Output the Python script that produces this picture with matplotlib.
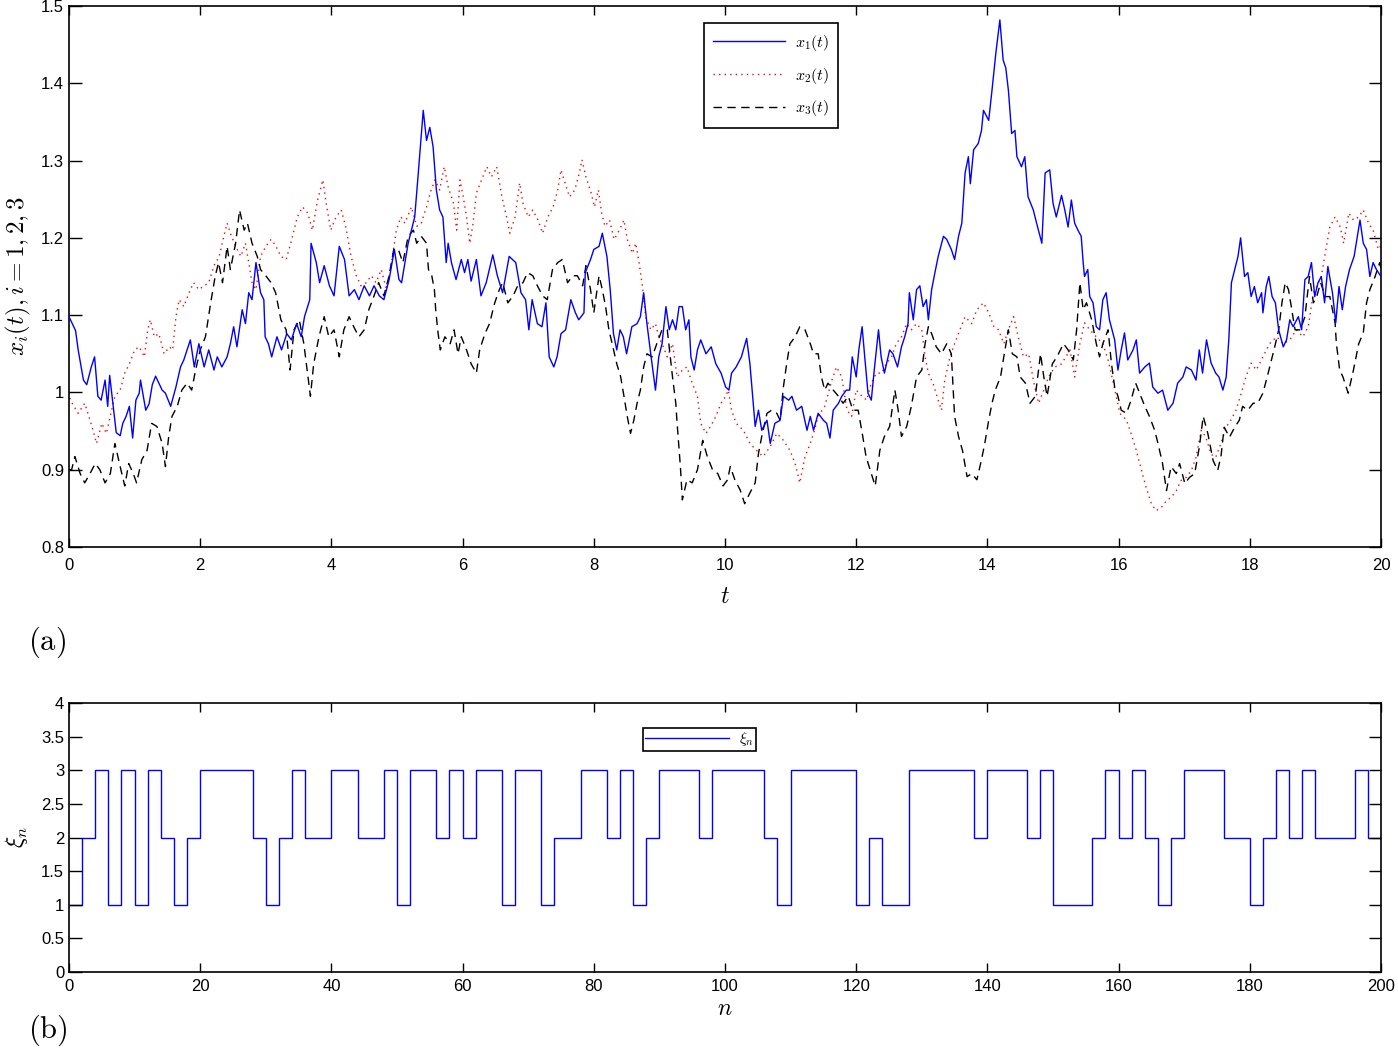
import numpy as np
import matplotlib
matplotlib.use("Agg")
import matplotlib.pyplot as plt
from matplotlib.ticker import FuncFormatter

plt.rcParams['mathtext.fontset'] = 'cm'
plt.rcParams['font.family'] = ['Liberation Sans', 'DejaVu Sans']

# ---------------- data: panel (a) ----------------
x1_data = [(0.00,1.098),(0.10,1.08),(0.14,1.055),(0.22,1.016),(0.27,1.01),(0.34,1.033),(0.39,1.046),
(0.44,0.995),(0.49,0.99),(0.55,1.016),(0.59,0.982),(0.62,1.022),(0.67,0.985),(0.72,0.948),(0.78,0.944),
(0.82,0.96),(0.87,0.969),(0.92,0.982),(0.97,0.941),(1.02,0.99),(1.07,0.999),(1.09,1.016),(1.17,0.977),
(1.22,0.985),(1.27,1.01),(1.32,1.021),(1.42,1.003),(1.47,0.999),(1.55,0.982),(1.63,1.007),(1.70,1.033),
(1.75,1.042),(1.85,1.068),(1.91,1.033),(1.98,1.063),(2.06,1.033),(2.13,1.055),(2.21,1.029),(2.26,1.046),
(2.33,1.033),(2.41,1.046),(2.46,1.063),(2.51,1.085),(2.56,1.059),(2.64,1.107),(2.69,1.089),(2.74,1.129),
(2.79,1.12),(2.85,1.168),(2.92,1.129),(2.97,1.12),(2.99,1.072),(3.04,1.063),(3.09,1.046),(3.17,1.072),
(3.24,1.055),(3.32,1.076),(3.39,1.068),(3.47,1.089),(3.54,1.072),(3.59,1.098),(3.67,1.12),(3.69,1.193),
(3.77,1.168),(3.82,1.142),(3.89,1.164),(3.97,1.138),(4.04,1.125),(4.12,1.189),(4.20,1.172),(4.27,1.125),
(4.35,1.133),(4.42,1.12),(4.50,1.138),(4.58,1.125),(4.65,1.138),(4.73,1.125),(4.80,1.12),(4.88,1.146),
(4.96,1.185),(5.03,1.146),(5.07,1.142),(5.17,1.193),(5.27,1.227),(5.32,1.279),(5.40,1.365),(5.45,1.326),
(5.50,1.343),(5.55,1.318),(5.60,1.262),(5.65,1.236),(5.70,1.227),(5.75,1.168),(5.78,1.193),(5.83,1.168),
(5.90,1.146),(5.98,1.172),(6.03,1.155),(6.08,1.172),(6.13,1.144),(6.21,1.172),(6.28,1.125),(6.36,1.142),
(6.46,1.178),(6.53,1.151),(6.61,1.129),(6.71,1.176),(6.81,1.168),(6.89,1.129),(6.96,1.12),(7.01,1.081),
(7.06,1.12),(7.14,1.089),(7.21,1.085),(7.27,1.116),(7.32,1.046),(7.39,1.033),(7.44,1.046),(7.50,1.076),
(7.57,1.081),(7.65,1.12),(7.72,1.103),(7.77,1.094),(7.85,1.103),(7.87,1.155),(7.95,1.172),(8.00,1.185),
(8.08,1.189),(8.13,1.206),(8.20,1.176),(8.25,1.133),(8.30,1.076),(8.35,1.055),(8.40,1.081),(8.45,1.072),
(8.50,1.05),(8.58,1.085),(8.66,1.089),(8.71,1.098),(8.76,1.129),(8.81,1.089),(8.86,1.055),(8.94,1.003),
(8.99,1.046),(9.04,1.063),(9.10,1.111),(9.15,1.081),(9.20,1.094),(9.25,1.081),(9.30,1.111),(9.35,1.111),
(9.40,1.081),(9.45,1.094),(9.48,1.046),(9.53,1.029),(9.58,1.055),(9.63,1.068),(9.71,1.05),(9.79,1.059),
(9.86,1.037),(9.94,1.025),(10.01,1.007),(10.06,1.003),(10.10,1.025),(10.17,1.033),(10.25,1.046),
(10.33,1.07),(10.38,1.037),(10.46,0.956),(10.51,0.977),(10.56,0.951),(10.64,0.964),(10.69,0.934),
(10.76,0.96),(10.84,0.964),(10.89,0.995),(10.97,0.99),(11.02,0.995),(11.09,0.977),(11.17,0.982),
(11.25,0.951),(11.30,0.969),(11.35,0.951),(11.42,0.973),(11.50,0.964),(11.55,0.96),(11.60,0.941),
(11.65,0.977),(11.73,0.986),(11.78,0.995),(11.85,1.003),(11.90,1.003),(11.94,1.046),(12.00,1.02),
(12.04,1.055),(12.09,1.085),(12.13,1.046),(12.18,0.999),(12.23,0.99),(12.28,1.033),(12.34,1.081),
(12.38,1.046),(12.43,1.025),(12.51,1.055),(12.56,1.05),(12.63,1.033),(12.69,1.059),(12.74,1.072),
(12.79,1.089),(12.81,1.129),(12.87,1.094),(12.92,1.133),(12.97,1.138),(13.02,1.111),(13.07,1.12),
(13.10,1.094),(13.15,1.133),(13.20,1.155),(13.25,1.176),(13.33,1.202),(13.38,1.198),(13.45,1.185),
(13.50,1.172),(13.56,1.202),(13.61,1.219),(13.66,1.284),(13.71,1.305),(13.74,1.27),(13.79,1.314),
(13.86,1.322),(13.91,1.339),(13.94,1.365),(14.02,1.352),(14.07,1.391),(14.13,1.44),(14.19,1.482),
(14.24,1.43),(14.28,1.42),(14.32,1.391),(14.37,1.335),(14.42,1.339),(14.45,1.305),(14.52,1.292),
(14.57,1.305),(14.62,1.253),(14.70,1.236),(14.75,1.219),(14.83,1.193),(14.88,1.284),(14.95,1.288),
(15.00,1.245),(15.05,1.227),(15.13,1.255),(15.18,1.236),(15.23,1.214),(15.28,1.249),(15.33,1.219),
(15.38,1.21),(15.43,1.202),(15.46,1.168),(15.48,1.15),(15.53,1.159),(15.56,1.124),(15.61,1.116),
(15.66,1.085),(15.71,1.081),(15.76,1.12),(15.81,1.129),(15.86,1.094),(15.94,1.068),(15.99,1.029),
(16.04,1.055),(16.09,1.077),(16.14,1.042),(16.22,1.055),(16.27,1.068),(16.32,1.025),(16.40,1.033),
(16.47,1.038),(16.52,1.007),(16.60,0.999),(16.67,1.003),(16.75,0.977),(16.83,0.986),(16.90,1.012),
(16.98,1.02),(17.03,1.033),(17.11,1.029),(17.18,1.016),(17.23,1.055),(17.28,1.025),(17.34,1.068),
(17.41,1.038),(17.48,1.025),(17.53,1.02),(17.59,1.003),(17.64,1.02),(17.68,1.068),(17.72,1.142),
(17.77,1.159),(17.82,1.176),(17.86,1.2),(17.92,1.15),(17.97,1.155),(18.02,1.124),(18.07,1.137),
(18.12,1.116),(18.18,1.129),(18.20,1.103),(18.25,1.137),(18.29,1.15),(18.34,1.124),(18.39,1.116),
(18.44,1.081),(18.51,1.059),(18.56,1.068),(18.61,1.094),(18.66,1.085),(18.74,1.098),(18.79,1.081),
(18.84,1.146),(18.89,1.15),(18.94,1.168),(18.99,1.124),(19.04,1.142),(19.09,1.15),(19.14,1.116),
(19.19,1.163),(19.26,1.129),(19.31,1.09),(19.36,1.137),(19.41,1.107),(19.46,1.137),(19.52,1.159),
(19.59,1.176),(19.63,1.197),(19.68,1.223),(19.73,1.193),(19.78,1.185),(19.83,1.15),(19.88,1.168),
(19.93,1.159),(20.00,1.15)]

x2_data = [(0.00,1.0),(0.02,0.99),(0.14,0.973),(0.24,0.986),(0.35,0.956),(0.42,0.934),(0.50,0.96),
(0.57,0.947),(0.65,0.977),(0.70,0.995),(0.78,1.003),(0.85,1.025),(0.92,1.037),(1.00,1.055),(1.07,1.059),
(1.15,1.046),(1.20,1.081),(1.24,1.094),(1.30,1.072),(1.37,1.076),(1.45,1.05),(1.53,1.059),(1.58,1.055),
(1.63,1.098),(1.68,1.12),(1.75,1.111),(1.83,1.129),(1.90,1.142),(1.98,1.133),(2.06,1.138),(2.13,1.142),
(2.21,1.164),(2.29,1.176),(2.36,1.202),(2.41,1.219),(2.46,1.206),(2.54,1.189),(2.62,1.176),(2.69,1.193),
(2.74,1.168),(2.79,1.142),(2.85,1.133),(2.92,1.176),(3.00,1.189),(3.08,1.198),(3.15,1.19),(3.23,1.176),
(3.31,1.172),(3.38,1.193),(3.43,1.21),(3.48,1.227),(3.56,1.24),(3.64,1.232),(3.71,1.21),(3.79,1.249),
(3.87,1.275),(3.92,1.245),(3.99,1.21),(4.07,1.227),(4.15,1.236),(4.22,1.214),(4.30,1.176),(4.38,1.151),
(4.45,1.138),(4.53,1.142),(4.61,1.151),(4.68,1.142),(4.76,1.159),(4.84,1.133),(4.91,1.164),(4.99,1.21),
(5.06,1.227),(5.12,1.219),(5.22,1.24),(5.30,1.215),(5.37,1.219),(5.45,1.24),(5.52,1.262),(5.58,1.275),
(5.65,1.262),(5.72,1.292),(5.78,1.266),(5.86,1.245),(5.91,1.21),(5.96,1.275),(6.01,1.253),(6.06,1.227),
(6.11,1.193),(6.16,1.219),(6.21,1.258),(6.29,1.275),(6.37,1.292),(6.44,1.279),(6.52,1.292),(6.60,1.253),
(6.67,1.227),(6.72,1.206),(6.80,1.227),(6.87,1.271),(6.92,1.245),(7.00,1.227),(7.07,1.236),(7.15,1.223),
(7.22,1.206),(7.30,1.227),(7.38,1.24),(7.45,1.262),(7.50,1.288),(7.58,1.266),(7.63,1.253),(7.71,1.262),
(7.78,1.284),(7.82,1.301),(7.88,1.279),(7.96,1.258),(8.01,1.24),(8.07,1.262),(8.12,1.232),(8.17,1.215),
(8.24,1.223),(8.31,1.198),(8.39,1.21),(8.46,1.223),(8.51,1.198),(8.59,1.18),(8.64,1.193),(8.69,1.168),
(8.74,1.138),(8.79,1.098),(8.87,1.081),(8.94,1.089),(8.99,1.072),(9.04,1.063),(9.12,1.046),(9.20,1.063),
(9.27,1.02),(9.35,1.029),(9.42,1.033),(9.50,1.012),(9.58,0.995),(9.63,0.96),(9.71,0.947),(9.78,0.956),
(9.86,0.969),(9.94,0.986),(10.01,0.995),(10.05,1.003),(10.10,0.977),(10.17,0.96),(10.28,0.951),
(10.38,0.934),(10.48,0.925),(10.58,0.917),(10.69,0.93),(10.79,0.947),(10.89,0.938),(10.99,0.925),
(11.07,0.908),(11.14,0.883),(11.22,0.917),(11.30,0.934),(11.35,0.947),(11.42,0.969),(11.52,0.982),
(11.63,1.016),(11.70,1.033),(11.78,1.02),(11.86,0.977),(11.93,0.969),(12.00,1.003),(12.09,0.995),
(12.16,0.99),(12.23,1.012),(12.31,1.025),(12.39,1.025),(12.46,1.037),(12.54,1.046),(12.61,1.063),
(12.69,1.072),(12.77,1.089),(12.84,1.081),(12.92,1.089),(13.00,1.081),(13.05,1.046),(13.10,1.025),
(13.17,1.012),(13.25,0.99),(13.30,0.977),(13.35,1.016),(13.43,1.046),(13.50,1.063),(13.58,1.081),
(13.66,1.098),(13.76,1.089),(13.84,1.107),(13.94,1.116),(14.02,1.103),(14.10,1.085),(14.17,1.081),
(14.25,1.063),(14.32,1.081),(14.40,1.098),(14.47,1.072),(14.55,1.046),(14.63,1.05),(14.70,1.016),
(14.78,0.986),(14.86,1.003),(14.93,1.02),(15.03,1.033),(15.13,1.037),(15.26,1.055),(15.33,1.02),
(15.41,1.063),(15.48,1.09),(15.56,1.081),(15.66,1.072),(15.76,1.063),(15.84,1.042),(15.91,1.016),
(16.02,0.973),(16.12,0.964),(16.19,0.947),(16.27,0.925),(16.35,0.899),(16.42,0.877),(16.50,0.856),
(16.57,0.847),(16.65,0.851),(16.73,0.86),(16.80,0.864),(16.88,0.873),(16.95,0.886),(17.03,0.89),
(17.11,0.899),(17.18,0.916),(17.26,0.951),(17.33,0.942),(17.41,0.92),(17.48,0.916),(17.56,0.934),
(17.64,0.955),(17.71,0.964),(17.79,0.977),(17.87,0.999),(17.94,1.02),(18.02,1.038),(18.10,1.029),
(18.20,1.046),(18.30,1.063),(18.41,1.072),(18.51,1.063),(18.61,1.068),(18.71,1.081),(18.81,1.072),
(18.89,1.085),(18.97,1.129),(19.02,1.137),(19.09,1.15),(19.15,1.18),(19.22,1.214),(19.30,1.227),
(19.38,1.214),(19.43,1.193),(19.51,1.232),(19.58,1.223),(19.66,1.227),(19.73,1.236),(19.81,1.219),
(19.88,1.21),(19.96,1.185),(20.00,1.19)]

x3_data = [(0.00,0.9),(0.04,0.9),(0.09,0.917),(0.17,0.895),(0.24,0.883),(0.32,0.895),(0.40,0.908),
(0.47,0.9),(0.55,0.883),(0.63,0.895),(0.70,0.934),(0.78,0.904),(0.85,0.879),(0.91,0.908),(0.98,0.895),
(1.03,0.883),(1.11,0.913),(1.19,0.925),(1.26,0.96),(1.34,0.956),(1.42,0.934),(1.47,0.904),(1.52,0.943),
(1.57,0.969),(1.65,0.982),(1.72,1.003),(1.80,1.012),(1.87,1.003),(1.93,1.029),(2.00,1.055),(2.08,1.072),
(2.16,1.116),(2.23,1.151),(2.28,1.168),(2.34,1.142),(2.41,1.189),(2.46,1.159),(2.54,1.193),(2.60,1.236),
(2.67,1.21),(2.72,1.219),(2.79,1.193),(2.87,1.176),(2.92,1.159),(3.00,1.151),(3.08,1.142),(3.15,1.129),
(3.23,1.094),(3.31,1.081),(3.37,1.029),(3.43,1.081),(3.51,1.094),(3.58,1.063),(3.63,1.029),(3.68,0.995),
(3.73,1.037),(3.81,1.072),(3.89,1.098),(3.96,1.072),(4.04,1.081),(4.12,1.046),(4.19,1.081),(4.27,1.098),
(4.34,1.085),(4.42,1.072),(4.50,1.081),(4.57,1.107),(4.65,1.125),(4.72,1.142),(4.80,1.125),(4.88,1.151),
(4.95,1.185),(5.02,1.185),(5.09,1.168),(5.17,1.202),(5.25,1.21),(5.30,1.193),(5.37,1.202),(5.45,1.193),
(5.48,1.159),(5.53,1.151),(5.57,1.133),(5.59,1.107),(5.62,1.081),(5.66,1.055),(5.73,1.072),(5.81,1.063),
(5.87,1.081),(5.93,1.05),(5.98,1.072),(6.06,1.055),(6.13,1.037),(6.21,1.025),(6.26,1.055),(6.34,1.076),
(6.41,1.089),(6.49,1.116),(6.56,1.133),(6.61,1.142),(6.69,1.116),(6.77,1.125),(6.84,1.138),(6.92,1.142),
(6.99,1.155),(7.07,1.151),(7.14,1.138),(7.22,1.125),(7.29,1.12),(7.37,1.159),(7.45,1.168),(7.52,1.172),
(7.60,1.142),(7.68,1.151),(7.75,1.151),(7.83,1.138),(7.88,1.164),(7.95,1.133),(8.00,1.103),(8.08,1.151),
(8.13,1.133),(8.18,1.111),(8.23,1.081),(8.28,1.063),(8.35,1.037),(8.41,1.02),(8.46,0.995),(8.51,0.969),
(8.56,0.947),(8.61,0.964),(8.66,0.986),(8.71,1.003),(8.76,1.033),(8.81,1.05),(8.89,1.046),(8.96,1.063),
(9.04,1.081),(9.12,1.081),(9.20,1.02),(9.25,0.986),(9.27,0.96),(9.32,0.904),(9.35,0.861),(9.42,0.887),
(9.50,0.883),(9.58,0.9),(9.66,0.938),(9.73,0.917),(9.81,0.9),(9.89,0.895),(9.97,0.879),(10.04,0.887),
(10.08,0.904),(10.15,0.887),(10.23,0.874),(10.30,0.856),(10.38,0.87),(10.46,0.883),(10.51,0.921),
(10.56,0.943),(10.64,0.973),(10.71,0.977),(10.79,0.973),(10.84,0.964),(10.89,1.007),(10.94,1.037),
(10.99,1.063),(11.07,1.072),(11.14,1.085),(11.22,1.081),(11.30,1.063),(11.35,1.05),(11.42,1.05),
(11.47,1.02),(11.52,1.003),(11.57,1.012),(11.65,1.003),(11.73,0.995),(11.80,0.986),(11.88,0.995),
(11.95,0.977),(12.03,0.977),(12.10,0.943),(12.15,0.917),(12.23,0.895),(12.29,0.879),(12.36,0.925),
(12.43,0.943),(12.51,0.956),(12.59,1.003),(12.64,0.977),(12.69,0.943),(12.77,0.956),(12.84,0.982),
(12.92,1.02),(13.00,1.029),(13.05,1.063),(13.10,1.085),(13.15,1.076),(13.22,1.059),(13.30,1.05),
(13.38,1.063),(13.45,1.05),(13.50,0.969),(13.56,0.943),(13.62,0.925),(13.69,0.891),(13.76,0.895),
(13.84,0.887),(13.91,0.913),(13.96,0.934),(14.02,0.964),(14.07,0.986),(14.12,1.003),(14.20,1.02),
(14.25,1.046),(14.32,1.081),(14.38,1.05),(14.45,1.046),(14.50,1.02),(14.58,1.012),(14.65,0.986),
(14.73,0.995),(14.81,1.05),(14.86,1.02),(14.91,0.995),(14.99,1.037),(15.06,1.046),(15.16,1.063),
(15.23,1.055),(15.31,1.042),(15.36,1.081),(15.41,1.142),(15.46,1.107),(15.51,1.116),(15.59,1.094),
(15.66,1.063),(15.71,1.046),(15.76,1.063),(15.84,1.081),(15.89,1.038),(15.94,1.007),(15.99,0.995),
(16.04,0.977),(16.12,0.973),(16.19,0.99),(16.26,1.012),(16.32,0.999),(16.40,0.982),(16.47,0.969),
(16.55,0.951),(16.60,0.934),(16.67,0.908),(16.73,0.873),(16.80,0.904),(16.88,0.895),(16.93,0.908),
(17.01,0.882),(17.08,0.89),(17.16,0.895),(17.23,0.929),(17.29,0.969),(17.36,0.947),(17.44,0.912),
(17.51,0.899),(17.56,0.917),(17.61,0.955),(17.69,0.942),(17.77,0.955),(17.84,0.964),(17.89,0.982),
(17.97,0.977),(18.05,0.986),(18.12,0.986),(18.20,0.999),(18.28,1.025),(18.33,1.042),(18.38,1.059),
(18.44,1.081),(18.49,1.116),(18.54,1.142),(18.59,1.133),(18.64,1.107),(18.69,1.081),(18.77,1.081),
(18.84,1.098),(18.91,1.15),(18.97,1.116),(19.02,1.124),(19.08,1.142),(19.15,1.124),(19.22,1.124),
(19.30,1.09),(19.32,1.063),(19.37,1.029),(19.42,1.02),(19.50,0.999),(19.58,1.029),(19.66,1.063),
(19.73,1.077),(19.78,1.116),(19.83,1.133),(19.91,1.15),(19.98,1.168),(20.00,1.16)]

# ---------------- data: panel (b) ----------------
n_edges = list(range(0, 201, 2))
xi_values = [1,2,3,1,3,1,3,2,1,2,
             3,3,3,3,2,1,2,3,2,2,
             3,3,2,2,3,1,3,3,2,3,
             2,3,3,1,3,3,1,2,2,3,
             3,2,3,1,2,3,3,3,2,3,
             3,3,3,2,1,3,3,3,3,3,
             1,2,1,1,3,3,3,3,3,2,
             3,3,3,2,3,1,1,1,2,3,
             2,3,2,1,2,3,3,3,2,2,
             1,2,3,2,3,2,2,2,3,2]

x_ticks_a = [0, 2, 4, 6, 8, 10, 12, 14, 16, 18, 20]
y_ticks_a = [0.8, 0.9, 1.0, 1.1, 1.2, 1.3, 1.4, 1.5]
x_ticks_b = [0, 20, 40, 60, 80, 100, 120, 140, 160, 180, 200]
y_ticks_b = [0, 0.5, 1, 1.5, 2, 2.5, 3, 3.5, 4]

# ---------------- figure ----------------
fig = plt.figure(figsize=(13.98, 10.5), dpi=100)
ax1 = fig.add_axes([69/1398, 1-547/1050, 1312/1398, 541/1050])
ax2 = fig.add_axes([69/1398, 1-972/1050, 1312/1398, 269/1050])

t1, v1 = zip(*x1_data)
t2, v2 = zip(*x2_data)
t3, v3 = zip(*x3_data)
ax1.plot(t1, v1, color='#0000ff', lw=1.0, label=r'$x_1(t)$', zorder=3)
ax1.plot(t2, v2, color='#ff0000', lw=1.0, ls=(0, (1, 3)), label=r'$x_2(t)$', zorder=2)
ax1.plot(t3, v3, color='black', lw=1.0, ls=(0, (6, 4)), label=r'$x_3(t)$', zorder=2)

ax1.set_xlim(0, 20)
ax1.set_ylim(0.8, 1.5)
ax1.set_xticks(x_ticks_a)
ax1.set_yticks(y_ticks_a)
ax1.yaxis.set_major_formatter(FuncFormatter(lambda v, p: '%g' % round(v, 2)))
ax1.set_xlabel(r'$t$', fontsize=17, labelpad=9)
ax1.set_ylabel(r'$x_i(t), i=1,2,3$', fontsize=18, labelpad=6)
leg1 = ax1.legend(loc='center', bbox_to_anchor=((771-69)/1312, 1-69.5/541), fontsize=11.5,
                  frameon=True, fancybox=False, edgecolor='black', framealpha=1,
                  handlelength=4.5, borderpad=0.6, labelspacing=0.8, handletextpad=0.6)
leg1.get_frame().set_linewidth(1.2)

ax2.stairs(xi_values, n_edges, baseline=None, color='#0000ff', lw=1.0, label=r'$\xi_n$')
ax2.set_xlim(0, 200)
ax2.set_ylim(0, 4)
ax2.set_xticks(x_ticks_b)
ax2.set_yticks(y_ticks_b)
ax2.yaxis.set_major_formatter(FuncFormatter(lambda v, p: '%g' % v))
ax2.set_xlabel(r'$n$', fontsize=17, labelpad=3)
ax2.set_ylabel(r'$\xi_n$', fontsize=17, labelpad=8)
leg2 = ax2.legend(loc='center', bbox_to_anchor=((699.5-69)/1312, 1-36.5/269), fontsize=11,
                  frameon=True, fancybox=False, edgecolor='black', framealpha=1,
                  handlelength=5.5, borderpad=0.15, handletextpad=0.6)
leg2.get_frame().set_linewidth(1.2)

for ax in (ax1, ax2):
    ax.tick_params(direction='in', top=True, right=True, labelsize=12, width=1.0)
    ax.tick_params(axis='y', length=9)
    for s in ax.spines.values():
        s.set_linewidth(1.2)
ax1.tick_params(axis='x', length=6.5, pad=8)
ax2.tick_params(axis='x', length=6.5, pad=5)

fig.text(28/1398, 1-642/1050, r'$\mathrm{(a)}$', fontsize=22, va='center', ha='left')
fig.text(28/1398, 1-1030/1050, r'$\mathrm{(b)}$', fontsize=22, va='center', ha='left')

fig.savefig('out.png', dpi=100)
